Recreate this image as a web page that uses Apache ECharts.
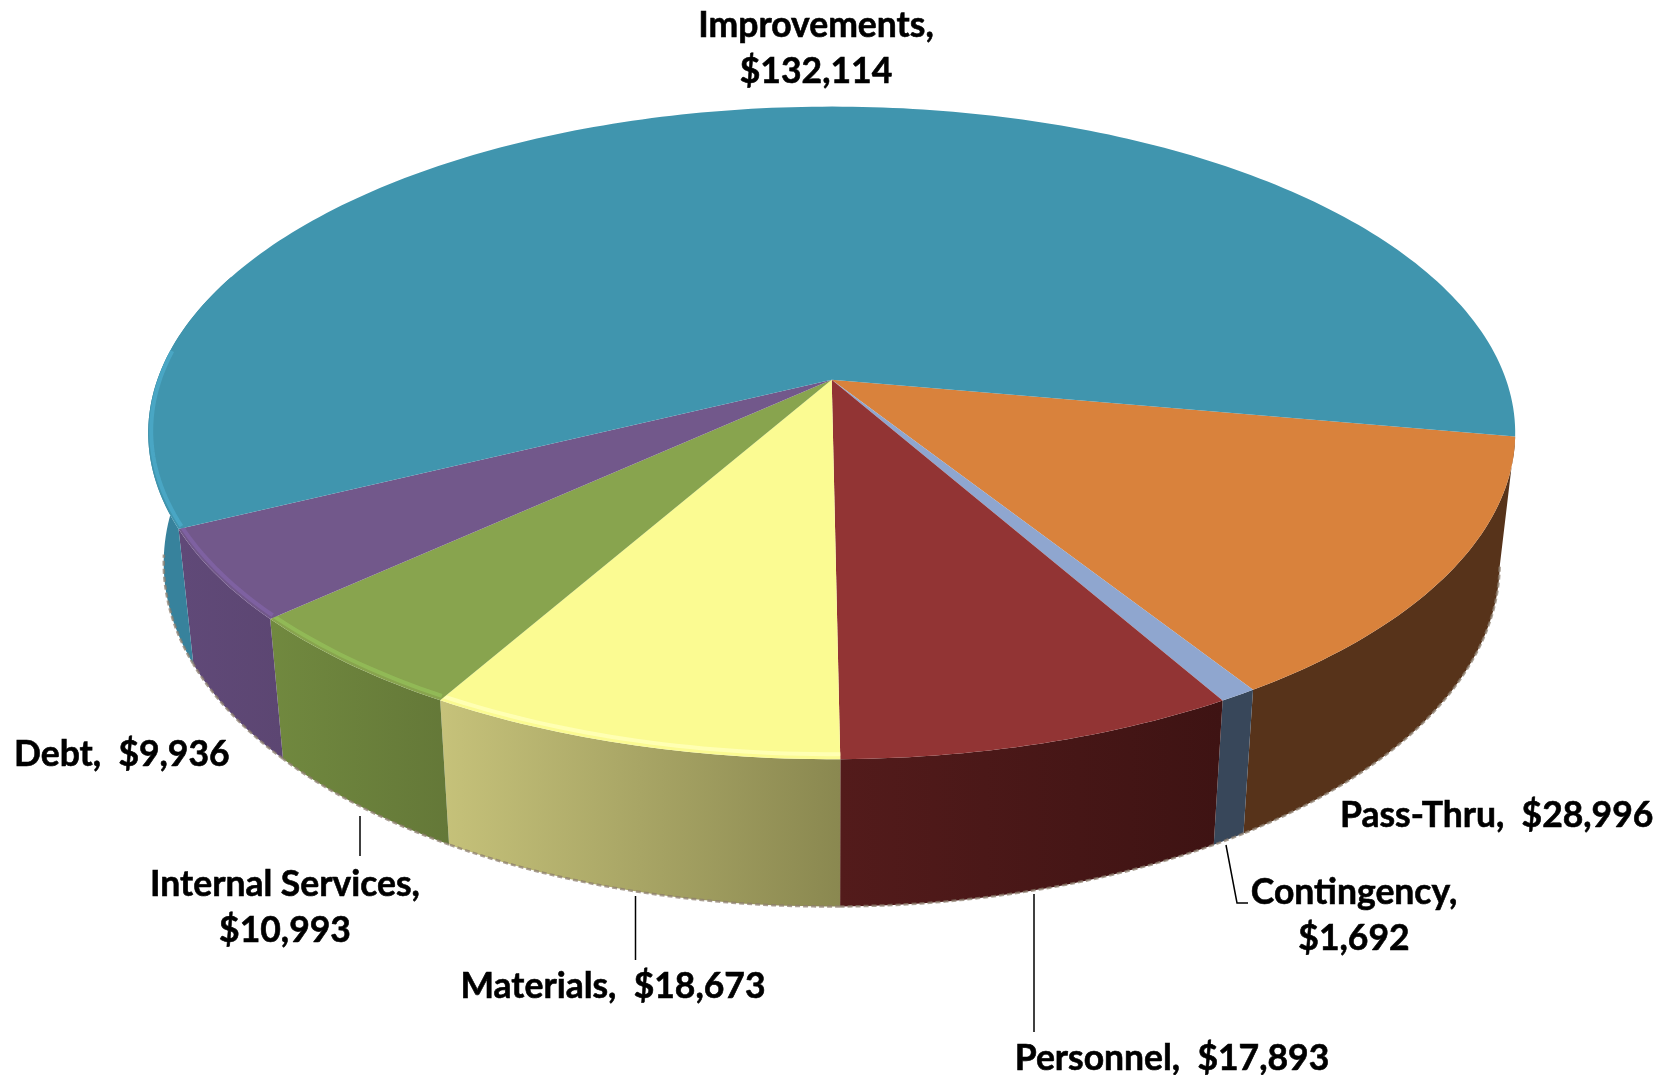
<!DOCTYPE html>
<html>
<head>
<meta charset="utf-8">
<style>
  html, body { margin: 0; padding: 0; background: #fff; }
  #chart { width: 1672px; height: 1075px; }
</style>
<script src="https://cdn.jsdelivr.net/npm/echarts@6/dist/echarts.min.js"></script>
</head>
<body>
<div id="chart"></div>
<script>
// slices run clockwise from the right edge of the disc
var categories = ['Pass-Thru', 'Contingency', 'Personnel', 'Materials', 'Internal Services', 'Debt', 'Improvements']
var values = [28996, 1692, 17893, 18673, 10993, 9936, 132114]

var topColors = ['#d9823c', '#8fa6cf', '#923434', '#fbfb92', '#88a44e', '#72588b', '#4095ae']
var wallColors = [
  ['#57331a', '#57331a'],
  ['#38475a', '#38475a'],
  ['#3e1313', '#531b1b'],
  ['#8a8850', '#c6c27a'],
  ['#647838', '#71893f'],
  ['#5c4672', '#604978'],
  ['#37829c', '#37829c']
]
var rimColors = [null, null, null, '#ffffb8', '#93bd58', '#8063a4', '#4ba9c8']

// label layout, px on the 1672x1075 page
var labelLayout = [
  { lines: 1, x: 1340, y: 816, align: 'left', gap: '  ' },
  { lines: 2, x: 1354, y: 893, align: 'center' },
  { lines: 1, x: 1172, y: 1059, align: 'center', gap: '  ' },
  { lines: 1, x: 613, y: 987, align: 'center', gap: '  ' },
  { lines: 2, x: 285, y: 885, align: 'center' },
  { lines: 1, x: 14, y: 755, align: 'left', gap: '  ' },
  { lines: 2, x: 816, y: 26, align: 'center' }
]
var leaderLines = [
  null,
  [[1226, 845], [1237, 903], [1248, 903]],
  [[1034, 894], [1034, 1032]],
  [[635.5, 896], [635.5, 960]],
  [[360, 816], [360, 856]],
  null,
  null
]

// the disc is a circle seen in perspective: top and bottom rims are ellipses
var topRim = { cx: 831.7, cy: 432.9, a: 683.5, b: 326.3 }
var bottomRim = { cx: 831.7, cy: 563, a: 668, b: 343.5 }
var tilt = 0.163
var startAngle = 10
var total = values.reduce(function (s, v) { return s + v }, 0)

function rimPoint(rim, deg) {
  var t = deg * Math.PI / 180
  var x = Math.cos(t)
  var y = Math.sin(t)
  var d = 1 - tilt * y
  return [
    rim.cx + rim.a * x * Math.sqrt(1 - tilt * tilt) / d,
    rim.cy + rim.b * (y - tilt) / d
  ]
}

function arc(rim, from, to) {
  var pts = []
  var n = Math.max(2, Math.ceil(to - from))
  for (var i = 0; i <= n; i++) {
    pts.push(rimPoint(rim, from + (to - from) * i / n))
  }
  return pts
}

var angles = []
var acc = startAngle
values.forEach(function (v) {
  var sweep = v / total * 360
  angles.push([acc, acc + sweep])
  acc += sweep
})

var apex = [topRim.cx, topRim.cy - tilt * topRim.b]

function wallItem(params, api) {
  var i = api.value(0)
  var a = angles[i]
  // past the left edge the wall is hidden behind the top of the disc
  var end = Math.min(a[1], 200)
  var top = arc(topRim, a[0], end)
  var bottom = arc(bottomRim, a[0], end)
  return {
    type: 'group',
    children: [
      {
        type: 'polygon',
        shape: { points: top.concat(bottom.slice().reverse()) },
        style: {
          fill: new echarts.graphic.LinearGradient(0, 0, 1, 0, [
            { offset: 0, color: wallColors[i][1] },
            { offset: 1, color: wallColors[i][0] }
          ])
        }
      },
      {
        type: 'polyline',
        shape: { points: arc(bottomRim, a[0], Math.min(a[1], 172)) },
        style: { fill: null, stroke: 'rgba(140,125,110,0.75)', lineWidth: 2.5, lineDash: [5, 3] }
      }
    ]
  }
}

function topItem(params, api) {
  var i = api.value(0)
  var a = angles[i]
  var children = [{
    type: 'polygon',
    shape: { points: [apex].concat(arc(topRim, a[0], a[1])) },
    style: { fill: topColors[i] }
  }]
  if (rimColors[i]) {
    // the bevel only catches the light on the lower left
    var rimEnd = Math.min(a[1], 185)
    children.push({
      type: 'polyline',
      shape: { points: arc({ cx: topRim.cx, cy: topRim.cy - 2, a: topRim.a - 3, b: topRim.b - 3 }, a[0], rimEnd) },
      style: { fill: null, stroke: rimColors[i], lineWidth: 4, opacity: 0.85 }
    })
  }
  return { type: 'group', children: children }
}

function money(v) {
  return '$' + v.toLocaleString('en-US')
}

function labelItem(params, api) {
  var i = api.value(0)
  var l = labelLayout[i]
  var rows = l.lines === 2
    ? [categories[i] + ',', money(values[i])]
    : [categories[i] + ',' + l.gap + money(values[i])]
  var children = rows.map(function (row, r) {
    return {
      type: 'text',
      style: {
        text: row,
        x: l.x,
        y: l.y + r * 46,
        fill: '#000',
        stroke: '#000',
        lineWidth: 0.6,
        fontFamily: 'Lato',
        fontWeight: 'bold',
        fontSize: 35.5,
        align: l.align,
        verticalAlign: 'middle'
      }
    }
  })
  if (leaderLines[i]) {
    children.push({
      type: 'polyline',
      shape: { points: leaderLines[i] },
      style: { fill: null, stroke: '#000', lineWidth: 1.5 }
    })
  }
  return { type: 'group', children: children }
}

var seriesData = categories.map(function (c, i) {
  return { name: c, value: [i, values[i]] }
})

function layer(renderItem, z) {
  return {
    type: 'custom',
    coordinateSystem: 'none',
    renderItem: renderItem,
    data: seriesData,
    clip: false,
    silent: true,
    animation: false,
    z: z
  }
}

var chart = echarts.init(document.getElementById('chart'))
chart.setOption({
  backgroundColor: '#fff',
  animation: false,
  series: [layer(wallItem, 1), layer(topItem, 2), layer(labelItem, 3)]
})
</script>
</body>
</html>
